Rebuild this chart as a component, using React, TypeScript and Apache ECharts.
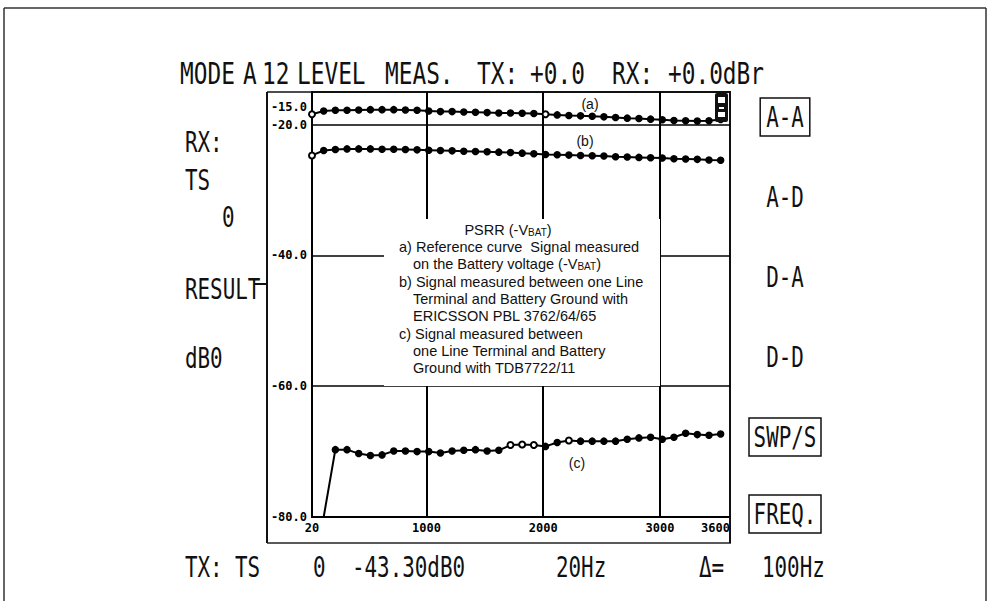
import React, { useEffect, useRef } from "react";
import * as echarts from "echarts";

// ---- data ----
const FREQS = [20, 120, 220, 320, 420, 520, 620, 720, 820, 920, 1020, 1120, 1220, 1320, 1420, 1520, 1620, 1720, 1820, 1920, 2020, 2120, 2220, 2320, 2420, 2520, 2620, 2720, 2820, 2920, 3020, 3120, 3220, 3320, 3420, 3520];
const CURVE_A = [-18.4, -17.9, -17.8, -17.8, -17.75, -17.7, -17.7, -17.7, -17.75, -17.8, -17.9, -18.0, -18.0, -18.05, -18.1, -18.15, -18.2, -18.2, -18.25, -18.3, -18.4, -18.5, -18.6, -18.65, -18.7, -18.8, -18.9, -19.0, -19.05, -19.15, -19.25, -19.35, -19.4, -19.45, -19.4, -19.2];
const CURVE_B = [-24.7, -23.95, -23.8, -23.7, -23.7, -23.7, -23.75, -23.75, -23.8, -23.85, -23.9, -23.95, -24.0, -24.05, -24.1, -24.15, -24.2, -24.25, -24.35, -24.45, -24.55, -24.6, -24.65, -24.7, -24.75, -24.8, -24.9, -24.95, -25.0, -25.05, -25.1, -25.2, -25.25, -25.3, -25.4, -25.45];
const CURVE_C = [-80, -80, -69.7, -69.7, -70.3, -70.6, -70.5, -69.9, -69.9, -70.0, -70.0, -70.2, -69.9, -69.8, -69.7, -69.9, -69.8, -69.0, -68.9, -69.0, -69.2, -68.6, -68.3, -68.4, -68.4, -68.4, -68.4, -68.1, -67.9, -67.8, -68.1, -67.8, -67.2, -67.4, -67.5, -67.3];
const HOLLOW_A = [0, 20];
const HOLLOW_B = [0];
const HOLLOW_C = [17, 18, 19, 22];
const X_TICKS = [20, 1000, 2000, 3000, 3600];
const Y_TICKS = [-80, -60, -40, -20];
const Y_REF_LABEL = "-15.0";
const V_GRID = [1000, 2000, 3000];
const H_GRID = [-20, -40, -60];
const X_MIN = 20;
const X_MAX = 3600;
const Y_MIN = -80;
const Y_MAX = -15;

const TITLE_WORDS = ["MODE", "A", "12", "LEVEL", "MEAS.", "TX:", "+0.0", "RX:", "+0.0dBr"];
const LEFT_WORDS = ["RX:", "TS", "0", "RESULT", "dB0"];
const RIGHT_WORDS = ["A-A", "A-D", "D-A", "D-D", "SWP/S", "FREQ."];
const RIGHT_BOXED = [true, false, false, false, true, true];
const BOTTOM_WORDS = ["TX:", "TS", "0", "-43.30dB0", "20Hz", "\u0394=", "100Hz"];
const LEGEND_LINES = [
  "{m|PSRR (-V}{s|BAT}{m|)}",
  "a) Reference curve  Signal measured",
  "{m|on the Battery voltage (-V}{s|BAT}{m|)}",
  "b) Signal measured between one Line",
  "Terminal and Battery Ground with",
  "ERICSSON PBL 3762/64/65",
  "c) Signal measured between",
  "one Line Terminal and Battery",
  "Ground with TDB7722/11",
];

// ---- layout (positions, not data) ----
const TITLE_X = [180, 243, 262, 297, 385, 477, 530, 612, 668];
const LEFT_POS = [[185, 142], [185, 180], [222, 217], [185, 289], [185, 358]];
const RIGHT_Y = [117, 197, 277, 357, 437, 514];
const BOTTOM_X = [185, 235, 313, 352, 556, 699, 762];
const LEGEND_POS = [[508, 230, "center"], [399, 247], [413, 264], [399, 282], [413, 299], [413, 316], [399, 334], [413, 351], [413, 368]];

const MONO = "DejaVu Sans Mono";
const SANS = "Liberation Sans, Arial, sans-serif";

const instr = (text: string, x: number, y: number, align = "left", size = 29, sx = 0.72) => ({
  type: "text",
  x,
  y,
  scaleX: sx,
  z: 110,
  style: { text, fontFamily: MONO, fontSize: size, fill: "#111", align, verticalAlign: "middle" },
});

const ln = (x1: number, y1: number, x2: number, y2: number, w = 1.5, color = "#111") => ({
  type: "line",
  z: 105,
  shape: { x1, y1, x2, y2 },
  style: { stroke: color, lineWidth: w },
});

const boxRect = (x: number, y: number, w: number, h: number) => ({
  type: "rect",
  z: 105,
  shape: { x, y, width: w, height: h },
  style: { fill: "none", stroke: "#111", lineWidth: 1.5 },
});

const note = (text: string, x: number, y: number, align = "left", size = 14.5) => ({
  type: "text",
  x,
  y,
  z: 120,
  style: {
    text,
    align,
    verticalAlign: "middle",
    fill: "#111",
    fontFamily: SANS,
    fontSize: size,
    rich: {
      m: { fontFamily: SANS, fontSize: size, fill: "#111" },
      s: { fontFamily: SANS, fontSize: 10, fill: "#111", padding: [4, 0, 0, 0] },
    },
  },
});

function makeData(vals: number[], hollow: number[]) {
  return FREQS.map((f, i) => {
    const v = vals[i];
    const item: any = { value: [f, v] };
    if (v <= Y_MIN) item.symbolSize = 0;
    else if (hollow.includes(i)) item.symbol = "emptyCircle";
    return item;
  });
}

const lineSeries = (name: string, vals: number[], hollow: number[], extra: any = {}) => ({
  name,
  type: "line",
  data: makeData(vals, hollow),
  symbol: "circle",
  symbolSize: 6,
  showSymbol: true,
  lineStyle: { color: "#000", width: 2 },
  itemStyle: { color: "#000", borderColor: "#000", borderWidth: 1.5 },
  z: 5,
  ...extra,
});

export default function App() {
  const ref = useRef<HTMLDivElement>(null);
  useEffect(() => {
    if (!ref.current) return;
    const chart = echarts.init(ref.current, undefined, { renderer: "svg" });

    const graphic: any[] = [];
    // outer frame of the scan
    graphic.push(ln(4, 8, 986, 8, 1.5, "#333"));
    graphic.push(ln(4, 8, 4, 601, 1.5, "#333"));
    graphic.push(ln(986, 8, 986, 601, 1.5, "#333"));
    // box around plot + label column
    graphic.push(ln(267, 92, 312, 92, 1.5));
    graphic.push(ln(267, 92, 267, 543, 2));
    graphic.push(ln(267, 543, 731, 543, 1.5, "#222"));
    graphic.push(ln(730, 517, 730, 543, 2));
    // title
    TITLE_WORDS.forEach((w, i) => graphic.push(instr(w, TITLE_X[i], 73, "left", 30, 0.76)));
    // left column
    LEFT_WORDS.forEach((w, i) => graphic.push(instr(w, LEFT_POS[i][0], LEFT_POS[i][1])));
    graphic.push(ln(254, 284, 268, 284, 2));
    // right column
    RIGHT_WORDS.forEach((w, i) => {
      graphic.push(instr(w, 785, RIGHT_Y[i], "center"));
      if (RIGHT_BOXED[i]) {
        const half = w.length * 5.6 + 8;
        graphic.push(boxRect(785 - half, RIGHT_Y[i] - 19, half * 2, 38));
      }
    });
    // bottom row
    BOTTOM_WORDS.forEach((w, i) => graphic.push(instr(w, BOTTOM_X[i], 567)));
    // -15.0 reference label
    graphic.push({
      type: "text",
      x: 307,
      y: 107,
      z: 110,
      style: { text: Y_REF_LABEL, fontFamily: MONO, fontWeight: "bold", fontSize: 12, fill: "#000", align: "right", verticalAlign: "middle" },
    });
    // small cursor marker top-right
    graphic.push({ type: "rect", z: 110, shape: { x: 715, y: 93, width: 13, height: 29, r: 2 }, style: { fill: "#111" } });
    graphic.push({ type: "rect", z: 111, shape: { x: 718, y: 97, width: 7, height: 6 }, style: { fill: "#fff" } });
    graphic.push({ type: "rect", z: 111, shape: { x: 719, y: 107, width: 5, height: 2 }, style: { fill: "#fff" } });
    graphic.push({ type: "rect", z: 111, shape: { x: 718, y: 112, width: 7, height: 5 }, style: { fill: "#fff" } });
    // curve labels
    graphic.push(note("(a)", 590, 104, "center", 14));
    graphic.push(note("(b)", 585, 141, "center", 14));
    graphic.push(note("(c)", 577, 463, "center", 14));
    // white legend box covering the grid
    graphic.push({ type: "rect", z: 100, shape: { x: 384, y: 219, width: 276, height: 167 }, style: { fill: "#fff" } });
    LEGEND_LINES.forEach((t, i) => {
      const p = LEGEND_POS[i] as any[];
      graphic.push(note(t, p[0], p[1], p[2] || "left"));
    });

    const gridLines = [
      ...V_GRID.map((v) => ({ xAxis: v, lineStyle: { width: 2 } })),
      ...H_GRID.map((v) => ({ yAxis: v, lineStyle: { width: 1.5 } })),
    ];

    chart.setOption({
      animation: false,
      backgroundColor: "#fff",
      grid: { left: 312, right: 260, top: 92, bottom: 84, show: true, borderColor: "#111", borderWidth: 2, backgroundColor: "transparent" },
      xAxis: {
        type: "value",
        min: X_MIN,
        max: X_MAX,
        axisLine: { show: true, lineStyle: { color: "#000", width: 2 } },
        axisTick: { show: false },
        splitLine: { show: false },
        axisLabel: {
          customValues: X_TICKS,
          formatter: (v: number) => String(v),
          fontFamily: MONO,
          fontWeight: "bold",
          fontSize: 12,
          color: "#000",
          margin: 5,
          alignMaxLabel: "right",
        },
      },
      yAxis: {
        type: "value",
        min: Y_MIN,
        max: Y_MAX,
        axisLine: { show: true, lineStyle: { color: "#000", width: 2 } },
        axisTick: { show: false },
        splitLine: { show: false },
        axisLabel: {
          customValues: Y_TICKS,
          formatter: (v: number) => v.toFixed(1),
          fontFamily: MONO,
          fontWeight: "bold",
          fontSize: 12,
          color: "#000",
          margin: 5,
        },
      },
      series: [
        lineSeries("a", CURVE_A, HOLLOW_A, {
          markLine: {
            silent: true,
            symbol: ["none", "none"],
            label: { show: false },
            lineStyle: { color: "#000", type: "solid" },
            data: gridLines,
            z: 1,
          },
        }),
        lineSeries("b", CURVE_B, HOLLOW_B),
        lineSeries("c", CURVE_C, HOLLOW_C),
      ],
      graphic: { elements: graphic },
    });
    return () => chart.dispose();
  }, []);
  return <div ref={ref} style={{ position: "fixed", left: 0, top: 0, width: 990, height: 601, background: "#fff" }} />;
}
